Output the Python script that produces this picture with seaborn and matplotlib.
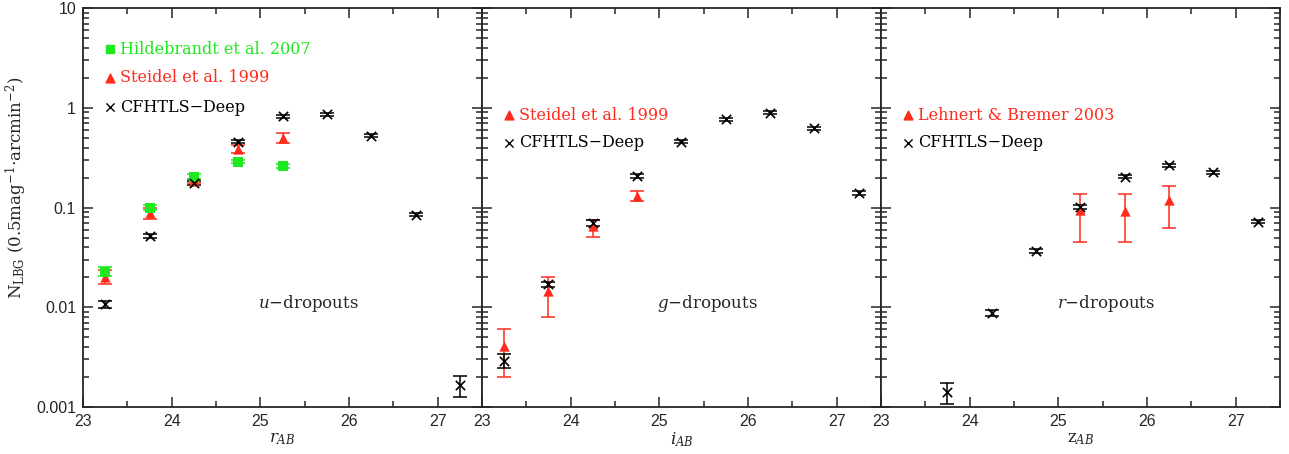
import numpy as np
import pandas as pd
import matplotlib
matplotlib.use("Agg")
import matplotlib.pyplot as plt
import matplotlib.ticker as mticker
import seaborn as sns

# magnitude bins
mag_u = [23.25, 23.75, 24.25, 24.75, 25.25, 25.75, 26.25, 26.75, 27.25]
mag_g = [23.25, 23.75, 24.25, 24.75, 25.25, 25.75, 26.25, 26.75, 27.25]
mag_r = [23.75, 24.25, 24.75, 25.25, 25.75, 26.25, 26.75, 27.25]

# CFHTLS-Deep counts (value, lower, upper)
cf_u = [0.0107, 0.052, 0.177, 0.457, 0.82, 0.865, 0.525, 0.085, 0.00166]
cf_u_lo = [0.0098, 0.0495, 0.170, 0.44, 0.79, 0.835, 0.505, 0.082, 0.00127]
cf_u_hi = [0.0117, 0.0545, 0.185, 0.475, 0.85, 0.895, 0.545, 0.088, 0.00205]

cf_g = [0.00291, 0.0171, 0.0705, 0.208, 0.457, 0.771, 0.893, 0.622, 0.141]
cf_g_lo = [0.00244, 0.0159, 0.066, 0.200, 0.44, 0.745, 0.865, 0.60, 0.135]
cf_g_hi = [0.0034, 0.018, 0.075, 0.216, 0.475, 0.80, 0.925, 0.645, 0.147]

cf_r = [0.0014, 0.00881, 0.0369, 0.102, 0.204, 0.267, 0.225, 0.0721]
cf_r_lo = [0.00106, 0.0082, 0.0352, 0.097, 0.197, 0.258, 0.218, 0.0695]
cf_r_hi = [0.00175, 0.0095, 0.0386, 0.107, 0.211, 0.276, 0.232, 0.0748]

# Hildebrandt et al. 2007 (u-dropouts)
hil_mag = [23.25, 23.75, 24.25, 24.75, 25.25]
hil = [0.0227, 0.0996, 0.204, 0.288, 0.262]
hil_lo = [0.0206, 0.094, 0.193, 0.277, 0.252]
hil_hi = [0.0255, 0.105, 0.215, 0.299, 0.272]

# Steidel et al. 1999 (u-dropouts)
st_u_mag = [23.25, 23.75, 24.25, 24.75, 25.25]
st_u = [0.020, 0.0875, 0.185, 0.386, 0.50]
st_u_lo = [0.0171, 0.077, 0.176, 0.355, 0.447]
st_u_hi = [0.0235, 0.098, 0.194, 0.42, 0.555]

# Steidel et al. 1999 (g-dropouts)
st_g_mag = [23.25, 23.75, 24.25, 24.75]
st_g = [0.00409, 0.01456, 0.0653, 0.1315]
st_g_lo = [0.00201, 0.00804, 0.0502, 0.116]
st_g_hi = [0.0060, 0.0200, 0.075, 0.146]

# Lehnert & Bremer 2003 (r-dropouts)
lb_mag = [25.25, 25.75, 26.25]
lb = [0.0944, 0.093, 0.118]
lb_lo = [0.0454, 0.0454, 0.0628]
lb_hi = [0.138, 0.138, 0.166]

GREEN = '#1ee81e'
RED = '#ff2b1c'

sns.set_style("ticks")
plt.rcParams['font.family'] = ['DejaVu Serif', 'DejaVu Sans']
plt.rcParams['mathtext.fontset'] = 'dejavuserif'

fig, axes = plt.subplots(1, 3, figsize=(12.89, 4.54), dpi=100, sharey=True)
fig.subplots_adjust(left=0.0644, right=0.993, top=0.982, bottom=0.1035, wspace=0)


def draw(ax, x, y, lo, hi, color, marker, size):
    df = pd.DataFrame({'mag': x, 'n': y})
    y = np.array(y)
    yerr = [y - np.array(lo), np.array(hi) - y]
    ax.errorbar(x, y, yerr=yerr, fmt='none', ecolor=color, elinewidth=1.1,
                capsize=5, capthick=1.1, zorder=2)
    sns.scatterplot(data=df, x='mag', y='n', ax=ax, color=color, marker=marker,
                    s=size, linewidth=1.2 if marker == 'x' else 0,
                    edgecolor=color, legend=False, zorder=3)


# u-dropouts
ax = axes[0]
draw(ax, st_u_mag, st_u, st_u_lo, st_u_hi, RED, '^', 55)
draw(ax, hil_mag, hil, hil_lo, hil_hi, GREEN, 's', 45)
draw(ax, mag_u, cf_u, cf_u_lo, cf_u_hi, 'black', 'x', 45)

# g-dropouts
ax = axes[1]
draw(ax, st_g_mag, st_g, st_g_lo, st_g_hi, RED, '^', 55)
draw(ax, mag_g, cf_g, cf_g_lo, cf_g_hi, 'black', 'x', 45)

# r-dropouts
ax = axes[2]
draw(ax, lb_mag, lb, lb_lo, lb_hi, RED, '^', 55)
draw(ax, mag_r, cf_r, cf_r_lo, cf_r_hi, 'black', 'x', 45)

xlabels = [r'$r_{AB}$', r'$i_{AB}$', r'$\mathrm{z}_{AB}$']
drop = [r'$u$$-$dropouts', r'$g$$-$dropouts', r'$r$$-$dropouts']
for ax, xl, dl in zip(axes, xlabels, drop):
    ax.set_yscale('log')
    ax.set_xlim(23, 27.5)
    ax.set_ylim(0.001, 10)
    ax.xaxis.set_major_locator(mticker.MultipleLocator(1))
    ax.xaxis.set_minor_locator(mticker.MultipleLocator(0.5))
    ax.yaxis.set_major_locator(mticker.LogLocator(base=10))
    ax.yaxis.set_minor_locator(mticker.LogLocator(base=10, subs=np.arange(2, 10)))
    ax.yaxis.set_major_formatter(mticker.FuncFormatter(lambda v, p: '%g' % v))
    ax.yaxis.set_minor_formatter(mticker.NullFormatter())
    ax.tick_params(which='both', direction='in', top=True, right=True,
                   width=1.1, labelsize=11.5, pad=5)
    ax.tick_params(which='major', length=7.5)
    ax.tick_params(which='minor', length=4.5)
    for lab in ax.get_xticklabels() + ax.get_yticklabels():
        lab.set_family(['Liberation Sans', 'DejaVu Sans'])
    for sp in ax.spines.values():
        sp.set_linewidth(1.3)
    ax.set_xlabel(xl, fontsize=12, labelpad=1)
    ax.set_ylabel('')
    ax.text(0.565, 0.26, dl, transform=ax.transAxes, ha='center', va='center',
            fontsize=12)

axes[0].set_ylabel(r'N$_{\mathrm{LBG}}$ (0.5mag$^{-1}$$\cdot$arcmin$^{-2}$)',
                   fontsize=12)
axes[0].yaxis.set_label_coords(-0.135, 0.55)


def legend_row(ax, yf, marker, color, label, size):
    ax.scatter([0.068], [yf], transform=ax.transAxes, marker=marker, s=size,
               color=color, linewidths=1.0, clip_on=False, zorder=4)
    ax.text(0.092, yf, label, transform=ax.transAxes, color=color,
            fontsize=11.5, va='center', ha='left')


legend_row(axes[0], 0.897, 's', GREEN, 'Hildebrandt et al. 2007', 35)
legend_row(axes[0], 0.825, '^', RED, 'Steidel et al. 1999', 40)
legend_row(axes[0], 0.752, 'x', 'black', 'CFHTLS\u2212Deep', 35)
legend_row(axes[1], 0.732, '^', RED, 'Steidel et al. 1999', 40)
legend_row(axes[1], 0.662, 'x', 'black', 'CFHTLS\u2212Deep', 35)
legend_row(axes[2], 0.732, '^', RED, 'Lehnert & Bremer 2003', 40)
legend_row(axes[2], 0.662, 'x', 'black', 'CFHTLS\u2212Deep', 35)

fig.savefig('out.png', dpi=100)
